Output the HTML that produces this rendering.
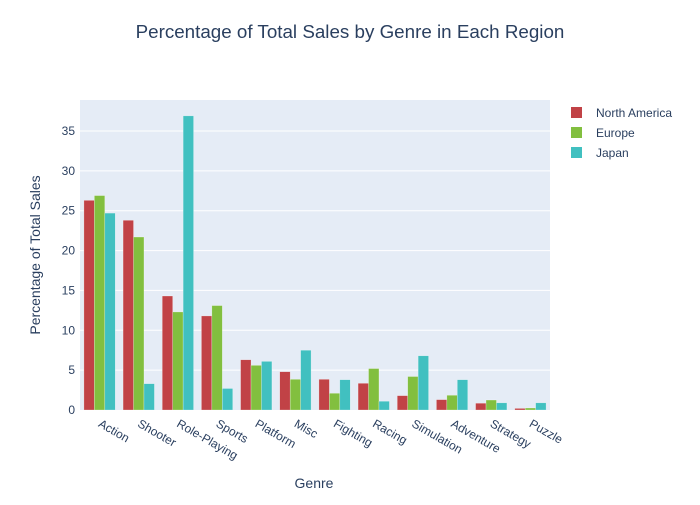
<!DOCTYPE html>
<html><head><meta charset="utf-8"><style>
body{margin:0;background:#fff;font-family:"Liberation Sans",Arial,sans-serif}
svg text{font-family:"Liberation Sans",Arial,sans-serif;fill:#2a3f5f}
</style></head><body>
<svg id="chart" width="700" height="500">
<rect x="0" y="0" width="700" height="500" fill="#fff"/>
<text x="350" y="38" text-anchor="middle" font-size="18.8">Percentage of Total Sales by Genre in Each Region</text>
<rect x="80" y="100" width="470" height="310" fill="#e5ecf6"/>
<g id="grid"></g><g id="bars"></g><g id="xticks"></g><g id="yticks"></g>
<text x="314" y="488" text-anchor="middle" font-size="14">Genre</text>
<text transform="translate(40,255) rotate(-90)" text-anchor="middle" font-size="14">Percentage of Total Sales</text>
<g id="legend"></g>
</svg>
<script>
const categories=["Action","Shooter","Role-Playing","Sports","Platform","Misc","Fighting","Racing","Simulation","Adventure","Strategy","Puzzle"];
const seriesNames=["North America","Europe","Japan"];
const naValues=[26.3,23.8,14.3,11.8,6.3,4.8,3.85,3.35,1.8,1.3,0.85,0.2];
const euValues=[26.9,21.7,12.3,13.1,5.6,3.85,2.1,5.2,4.2,1.85,1.25,0.25];
const jpValues=[24.7,3.3,36.9,2.7,6.1,7.5,3.8,1.1,6.8,3.8,0.9,0.9];
const yTicks=[0,5,10,15,20,25,30,35];
const colors=["#c14246","#82bf3f","#41c0c0"];
const NS="http://www.w3.org/2000/svg";
const x0=80,w=470,y0=410,yScale=v=>y0-v*(279/35);
const band=w/categories.length;
function mk(t,a,p){const e=document.createElementNS(NS,t);for(const k in a)e.setAttribute(k,a[k]);p.appendChild(e);return e;}
const grid=document.getElementById('grid'),yt=document.getElementById('yticks');
yTicks.forEach(v=>{
 if(v>0){const l=mk('line',{x1:x0,x2:x0+w,y1:yScale(v),y2:yScale(v),stroke:'#fff','stroke-width':1},grid);
 
 }
 const t=mk('text',{x:75,y:yScale(v)+4,'text-anchor':'end','font-size':12},yt);t.textContent=v;
 
 
});
const all=[naValues,euValues,jpValues];
const bars=document.getElementById('bars'),xt=document.getElementById('xticks');
const gw=band*0.8,bw=gw/3;
categories.forEach((c,i)=>{
 const gx=x0+band*i+band*0.1;
 all.forEach((arr,s)=>{
  const r=mk('rect',{x:gx+bw*s,y:yScale(arr[i]),width:bw,height:y0-yScale(arr[i]),fill:colors[s],stroke:'rgba(255,255,255,0.5)','stroke-width':0.5},bars);
  
  
 });
 const cx=x0+band*(i+0.5)-2;
 const t=mk('text',{x:cx,y:426,'font-size':12,transform:`rotate(30 ${cx} 426)`},xt);t.textContent=c;
 
 
});
const lg=document.getElementById('legend');
seriesNames.forEach((n,s)=>{
 const g=mk('g',{},lg);
 
 
 const y=113+20*s;
 mk('rect',{x:571,y:y-6,width:11,height:11,fill:colors[s]},g);
 const t=mk('text',{x:596,y:y+4,'font-size':12},g);t.textContent=n;
});
</script>
</body></html>
